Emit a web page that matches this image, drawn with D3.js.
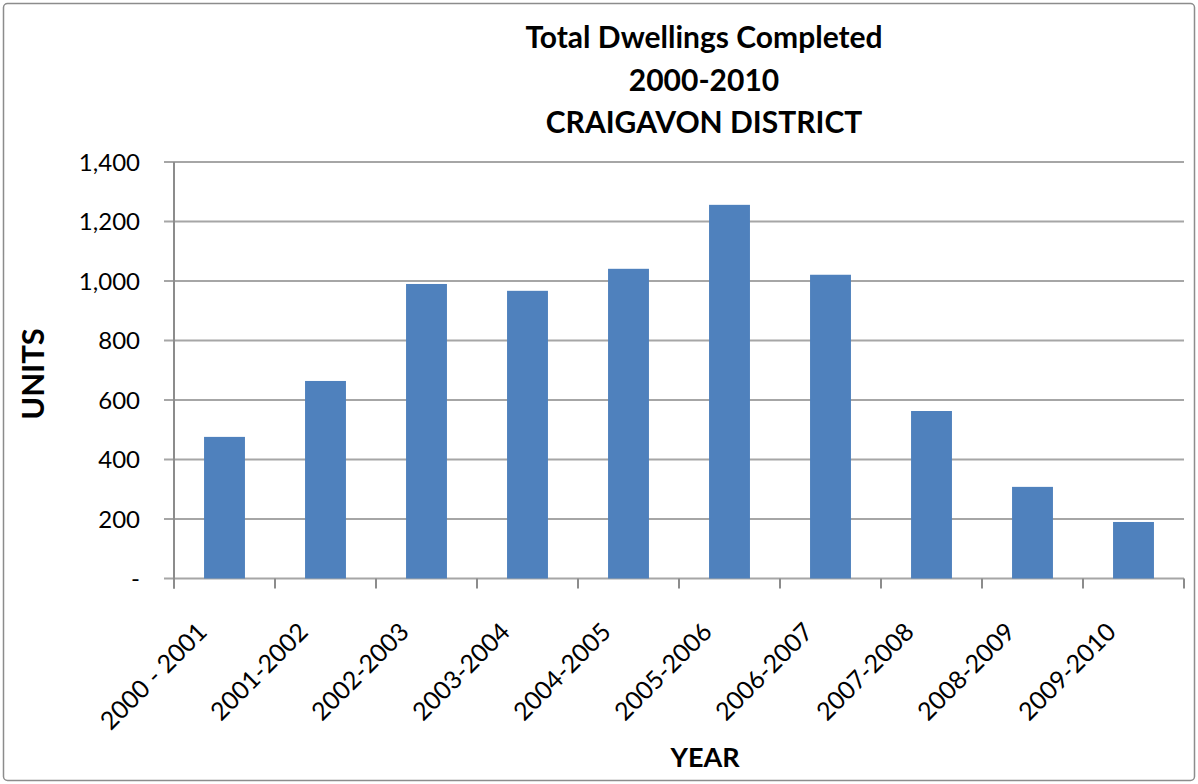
<!DOCTYPE html>
<html>
  <head>
    <meta charset="utf-8" />
    <title>Total Dwellings Completed</title>
    <script src="https://d3js.org/d3.v7.min.js"></script>
    <style>
      body { margin: 0; background: #fff; }
      text { font-family: Lato, "Open Sans", sans-serif; fill: #000; }
    </style>
  </head>
  <body>
    <svg width="1198" height="784"></svg>

    <script>
      // Chart data
      const years = ["2000 - 2001", "2001-2002", "2002-2003", "2003-2004", "2004-2005",
                     "2005-2006", "2006-2007", "2007-2008", "2008-2009", "2009-2010"];
      const units = [476, 664, 990, 967, 1041, 1256, 1021, 563, 308, 190];
      const yTicks = [0, 200, 400, 600, 800, 1000, 1200, 1400];
      const titleLines = ["Total Dwellings Completed", "2000-2010", "CRAIGAVON DISTRICT"];

      const svg = d3.select("svg");

      // Outer chart border
      svg.append("rect")
        .attr("x", 3.5).attr("y", 3.5)
        .attr("width", 1191).attr("height", 777)
        .attr("rx", 4)
        .attr("fill", "#fff")
        .attr("stroke", "#8c8c8c")
        .attr("stroke-width", 1.5);

      const plotLeft = 174, plotRight = 1184, plotTop = 162, plotBottom = 578.5;

      const x = d3.scaleBand().domain(years).range([plotLeft, plotRight]).paddingInner(0.595).paddingOuter(0.2975);
      const y = d3.scaleLinear().domain([0, 1400]).range([plotBottom, plotTop]);

      // Gridlines
      svg.append("g")
        .selectAll("line")
        .data(yTicks)
        .join("line")
        .attr("x1", plotLeft - 10).attr("x2", plotRight)
        .attr("y1", d => y(d)).attr("y2", d => y(d))
        .attr("stroke", "#a6a6a6")
        .attr("stroke-width", 2);

      // Y axis line
      svg.append("line")
        .attr("x1", plotLeft).attr("x2", plotLeft)
        .attr("y1", plotTop).attr("y2", plotBottom + 10)
        .attr("stroke", "#8c8c8c").attr("stroke-width", 2);

      // Category tick marks
      const bandStep = (plotRight - plotLeft) / years.length;
      svg.append("g")
        .selectAll("line")
        .data(d3.range(years.length + 1))
        .join("line")
        .attr("x1", i => plotLeft + i * bandStep).attr("x2", i => plotLeft + i * bandStep)
        .attr("y1", plotBottom).attr("y2", plotBottom + 10)
        .attr("stroke", "#8c8c8c").attr("stroke-width", 2);

      // Bars
      svg.append("g")
        .selectAll("rect")
        .data(units)
        .join("rect")
        .attr("x", (d, i) => x(years[i]))
        .attr("y", d => y(d))
        .attr("width", x.bandwidth())
        .attr("height", d => y(0) - y(d))
        .attr("fill", "#4f81bd");

      // Y tick labels
      svg.append("g")
        .selectAll("text")
        .data(yTicks)
        .join("text")
        .attr("x", 140)
        .attr("y", d => y(d) + 8.5)
        .attr("text-anchor", "end")
        .style("font-size", "24px")
        .text(d => d === 0 ? "-" : d3.format(",")(d));

      // X tick labels (rotated)
      svg.append("g")
        .selectAll("text")
        .data(years)
        .join("text")
        .attr("text-anchor", "end")
        .attr("transform", d => `translate(${x(d) + x.bandwidth() / 2 - 16},${plotBottom + 55}) rotate(-45)`)
        .style("font-size", "25px")
        .text(d => d);

      // Title
      svg.append("g")
        .selectAll("text")
        .data(titleLines)
        .join("text")
        .attr("x", 704)
        .attr("y", (d, i) => 48 + i * 42.5)
        .attr("text-anchor", "middle")
        .style("font-size", "30px")
        .style("font-weight", "bold")
        .text(d => d);

      // Axis titles
      svg.append("text")
        .attr("transform", "translate(44,374) rotate(-90)")
        .attr("text-anchor", "middle")
        .style("font-size", "31px")
        .style("font-weight", "bold")
        .text("UNITS");

      svg.append("text")
        .attr("x", 705).attr("y", 767)
        .attr("text-anchor", "middle")
        .style("font-size", "27px")
        .style("font-weight", "bold")
        .text("YEAR");
    </script>
  </body>
</html>
